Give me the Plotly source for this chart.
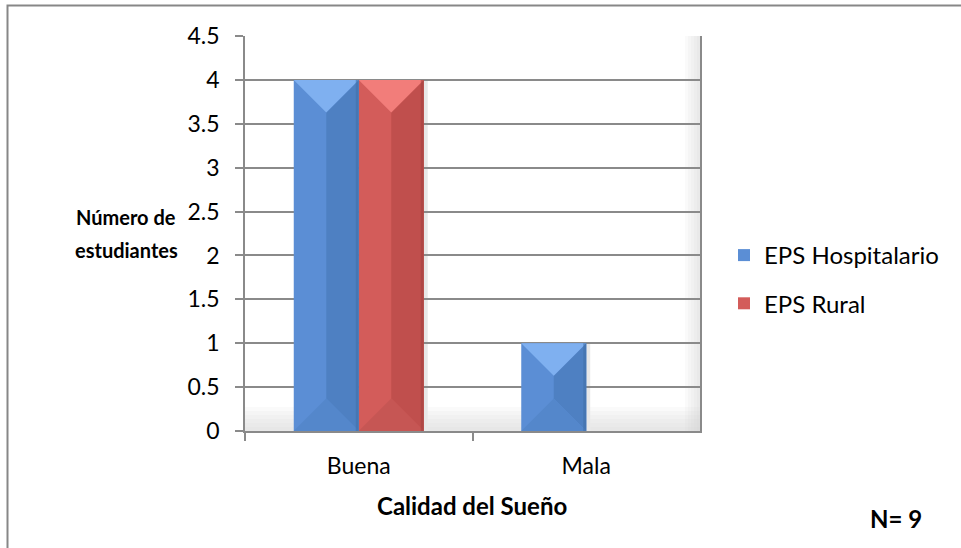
import plotly.graph_objects as go

# ---- data ----
categories = ["Buena", "Mala"]
hospitalario = [4, 1]
rural = [4, 0]
series_names = ["EPS Hospitalario", "EPS Rural"]
series_values = [hospitalario, rural]
y_tick_vals = [0, 0.5, 1, 1.5, 2, 2.5, 3, 3.5, 4, 4.5]
y_tick_text = ["0", "0.5", "1", "1.5", "2", "2.5", "3", "3.5", "4", "4.5"]

# ---- layout geometry (pixels) ----
W, H = 961, 548
PX0, PX1 = 245, 700
PY0, PY1 = 36, 431
Y_MAX = 4.5
GAP = 1.5 / 3.5  # 150% gap width

FONT = "Lato, Calibri, sans-serif"
GRID = "#8a8a8a"

# face colours for the bevelled bars
palettes = [
    dict(left="#5b8ed5", right="#4e80c2", top="#7fb0f0", bottom="#5487cb", edge="#416fa8"),
    dict(left="#d35c5a", right="#c04f4d", top="#f27d7a", bottom="#c65654", edge="#a34341"),
]


def px_x(px):
    return px / W


def px_y(py):
    return 1 - py / H


fig = go.Figure()

for name, vals, pal in zip(series_names, series_values, palettes):
    fig.add_trace(go.Bar(
        x=categories, y=vals, name=name, legendgroup=name,
        marker=dict(color=pal["left"], line=dict(width=0)),
    ))

# ---- bevel faces computed from the same values ----
n = len(series_values)
bar_w = (1 - GAP) / n
px_per_x = (PX1 - PX0) / len(categories)
px_per_y = (PY1 - PY0) / Y_MAX
depth = (bar_w / 2 * px_per_x) / px_per_y
edge_w = 3 / px_per_x

shapes = []
for i, (vals, pal) in enumerate(zip(series_values, palettes)):
    for j, v in enumerate(vals):
        if v <= 0:
            continue
        x0 = j - (1 - GAP) / 2 + i * bar_w
        x1 = x0 + bar_w
        cx = (x0 + x1) / 2
        d = min(depth, v / 2)
        common = dict(xref="x", yref="y", layer="above", line=dict(width=0))
        shapes.append(dict(type="path", path=f"M{x1},{v} L{cx},{v - d} L{cx},{d} L{x1},0 Z",
                           fillcolor=pal["right"], **common))
        shapes.append(dict(type="path", path=f"M{x0},0 L{cx},{d} L{x1},0 Z",
                           fillcolor=pal["bottom"], **common))
        shapes.append(dict(type="path", path=f"M{x0},{v} L{x1},{v} L{cx},{v - d} Z",
                           fillcolor=pal["top"], **common))
        shapes.append(dict(type="rect", x0=x1 - edge_w, x1=x1, y0=0, y1=v,
                           fillcolor=pal["edge"], opacity=0.6, **common))
        # soft shadow on the right of each bar
        shapes.append(dict(type="rect", x0=x1, x1=x1 + 4 / px_per_x, y0=0, y1=v,
                           xref="x", yref="y", layer="below", line=dict(width=0),
                           fillcolor="#e8e8e8"))

# floor shading along the bottom of the plot
for k in range(6):
    shapes.append(dict(type="rect", xref="paper", yref="paper", layer="below",
                       x0=px_x(PX0), x1=px_x(PX1), y0=px_y(PY1), y1=px_y(PY1 - 4 - 4 * k),
                       fillcolor="#d8d8d8", opacity=0.12, line=dict(width=0)))

# side wall shading on the right of the plot
for k in range(5):
    shapes.append(dict(type="rect", xref="paper", yref="paper", layer="below",
                       x0=px_x(PX1 - 3 - 3 * k), x1=px_x(PX1), y0=px_y(PY1), y1=px_y(PY0),
                       fillcolor="#d0d0d0", opacity=0.10, line=dict(width=0)))

# outer chart border
shapes.append(dict(type="rect", xref="paper", yref="paper",
                   x0=px_x(7.5), x1=1.05, y0=-0.05, y1=px_y(5.5),
                   line=dict(color="#878787", width=2), fillcolor="rgba(0,0,0,0)"))


def label(text, x, y, size):
    return dict(text=text, xref="paper", yref="paper", x=px_x(x), y=px_y(y),
                xanchor="center", yanchor="middle", showarrow=False,
                font=dict(family=FONT, size=size, color="black"))


fig.update_layout(
    width=W, height=H,
    margin=dict(l=0, r=0, t=0, b=0, autoexpand=False),
    paper_bgcolor="white", plot_bgcolor="white",
    barmode="group", bargap=GAP, bargroupgap=0,
    font=dict(family=FONT, size=24, color="black"),
    shapes=shapes,
    showlegend=True,
    legend=dict(x=px_x(724), y=px_y(233), xanchor="left", yanchor="top",
                font=dict(family=FONT, size=24, color="black"),
                tracegroupgap=14, itemwidth=30, bgcolor="rgba(0,0,0,0)"),
    xaxis=dict(
        domain=[px_x(PX0), px_x(PX1)],
        range=[-0.5, 1.5], automargin=False,
        showline=True, linecolor=GRID, linewidth=1.5,
        ticks="outside", ticklen=8, tickcolor=GRID, tickwidth=1.5,
        tickson="boundaries", ticklabelstandoff=14,
        showgrid=False, zeroline=False,
        tickfont=dict(family=FONT, size=23, color="black"),
    ),
    yaxis=dict(
        domain=[px_y(PY1), px_y(PY0)],
        range=[0, Y_MAX], automargin=False,
        tickvals=y_tick_vals, ticktext=y_tick_text,
        showline=True, linecolor=GRID, linewidth=1.5, mirror=True,
        ticks="outside", ticklen=8, tickcolor=GRID, tickwidth=1.5,
        ticklabelstandoff=11,
        showgrid=True, gridcolor=GRID, gridwidth=1.5, zeroline=False,
        tickfont=dict(family=FONT, size=23, color="black"),
    ),
    annotations=[
        label("<b>Número de</b>", 126, 217, 20),
        label("<b>estudiantes</b>", 126, 250, 20),
        label("<b>Calidad del Sueño</b>", 472, 505, 24),
        label("<b>N= 9</b>", 896, 518, 24),
    ],
)

fig.write_html("out.html")
